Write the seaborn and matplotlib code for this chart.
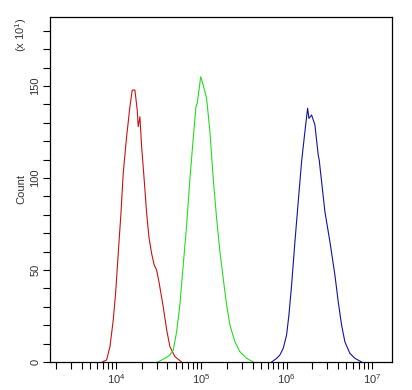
import numpy as np
import pandas as pd
import matplotlib
matplotlib.use("Agg")
import matplotlib.pyplot as plt
import matplotlib.ticker as mticker
import seaborn as sns

# ---- data (fluorescence intensity, count x10) ----
red_x = [6.92e3, 7.78e3, 8.51e3, 9.30e3, 9.91e3, 1.064e4, 1.145e4, 1.217e4, 1.334e4,
         1.458e4, 1.552e4, 1.668e4, 1.775e4, 1.824e4, 1.909e4, 1.999e4, 2.144e4,
         2.288e4, 2.434e4, 2.616e4, 2.806e4, 2.997e4, 3.19e4, 3.58e4, 3.93e4,
         4.29e4, 4.91e4, 5.88e4]
red_y = [0, 1.1, 8.3, 22.8, 37.3, 59, 80.8, 102.6, 122.5, 138.8, 147.8, 147.8,
         137, 127.9, 133.3, 117, 98.9, 81, 68, 59, 52.7, 50, 43.6, 30, 17.4, 8.3,
         2.9, 0]

green_x = [3.10e4, 3.75e4, 4.29e4, 4.69e4, 5.14e4, 5.61e4, 6.14e4, 6.73e4, 7.36e4,
           8.04e4, 8.65e4, 8.96e4, 9.45e4, 9.82e4, 1.052e5, 1.153e5, 1.261e5,
           1.378e5, 1.510e5, 1.650e5, 1.804e5, 1.977e5, 2.161e5, 2.473e5, 2.83e5,
           3.39e5, 4.05e5]
green_y = [0, 2, 3.8, 6.5, 16.5, 31, 52.7, 74.5, 99.8, 121.6, 138.8, 140.6, 148.7,
           155, 150.5, 143.3, 125.2, 99.8, 78.1, 60, 45.5, 31, 20.1, 11, 5.6, 2, 0]

blue_x = [6.65e5, 7.62e5, 8.32e5, 9.10e5, 9.97e5, 1.061e6, 1.141e6, 1.248e6, 1.364e6,
          1.494e6, 1.633e6, 1.757e6, 1.820e6, 1.958e6, 2.140e6, 2.339e6, 2.401e6,
          2.562e6, 2.801e6, 3.205e6, 3.667e6, 4.01e6, 4.39e6, 4.80e6, 5.49e6,
          6.29e6, 7.54e6]
blue_y = [0, 2, 3.8, 7.4, 14.7, 25.5, 41.8, 65.4, 87.1, 108.9, 125.2, 137.9, 132.4,
          134.2, 128.8, 112.5, 109.8, 98, 81.7, 65.4, 47.3, 32.8, 20.1, 11, 4.7, 2, 0]

y_ticks = [0, 50, 100, 150]
x_ticks = [1e4, 1e5, 1e6, 1e7]
x_ticklabels = [r"10$^{4}$", r"10$^{5}$", r"10$^{6}$", r"10$^{7}$"]

sns.set_style("ticks")
plt.rcParams["font.family"] = ["Liberation Sans", "DejaVu Sans"]
plt.rcParams["mathtext.fontset"] = "custom"
plt.rcParams["mathtext.rm"] = "Liberation Sans"
plt.rcParams["mathtext.it"] = "Liberation Sans"

fig = plt.figure(figsize=(4.12, 3.90), dpi=100)
ax = fig.add_axes([50 / 412, 28 / 390, 342 / 412, 345 / 390])

series = [(red_x, red_y, "#cc1111"), (green_x, green_y, "#22dd22"), (blue_x, blue_y, "#1111aa")]
for xs, ys, col in series:
    df = pd.DataFrame({"x": xs, "y": ys})
    sns.lineplot(data=df, x="x", y="y", ax=ax, color=col, linewidth=0.8, sort=False)

ax.set_xscale("log")
ax.set_xlim(1.69e3, 1.71e7)
ax.set_ylim(0, 187.5)

ax.set_xticks(x_ticks)
ax.set_xticklabels(x_ticklabels)
ax.xaxis.set_minor_locator(mticker.LogLocator(base=10, subs=np.arange(2, 10)))
ax.xaxis.set_minor_formatter(mticker.NullFormatter())
ax.set_yticks(y_ticks)
ax.set_yticklabels([str(v) for v in y_ticks], rotation=90, va="center")
ax.yaxis.set_minor_locator(mticker.MultipleLocator(10))

ax.tick_params(axis="both", which="major", direction="out", length=5, width=0.8,
               labelsize=8, colors="black", labelcolor="#333333")
ax.tick_params(axis="both", which="minor", direction="out", length=5, width=0.8,
               colors="black")
ax.tick_params(axis="x", which="major", pad=2)
ax.tick_params(axis="y", which="major", pad=2)

for s in ax.spines.values():
    s.set_linewidth(0.9)
    s.set_color("black")

ax.set_xlabel("")
ax.set_ylabel("Count", fontsize=8, color="#333333", labelpad=3)
fig.text(21 / 412, 1 - 35 / 390, r"(x 10$^{1}$)", rotation=90, fontsize=8,
         color="#333333", ha="center", va="center")

fig.savefig("out.png", dpi=100)
